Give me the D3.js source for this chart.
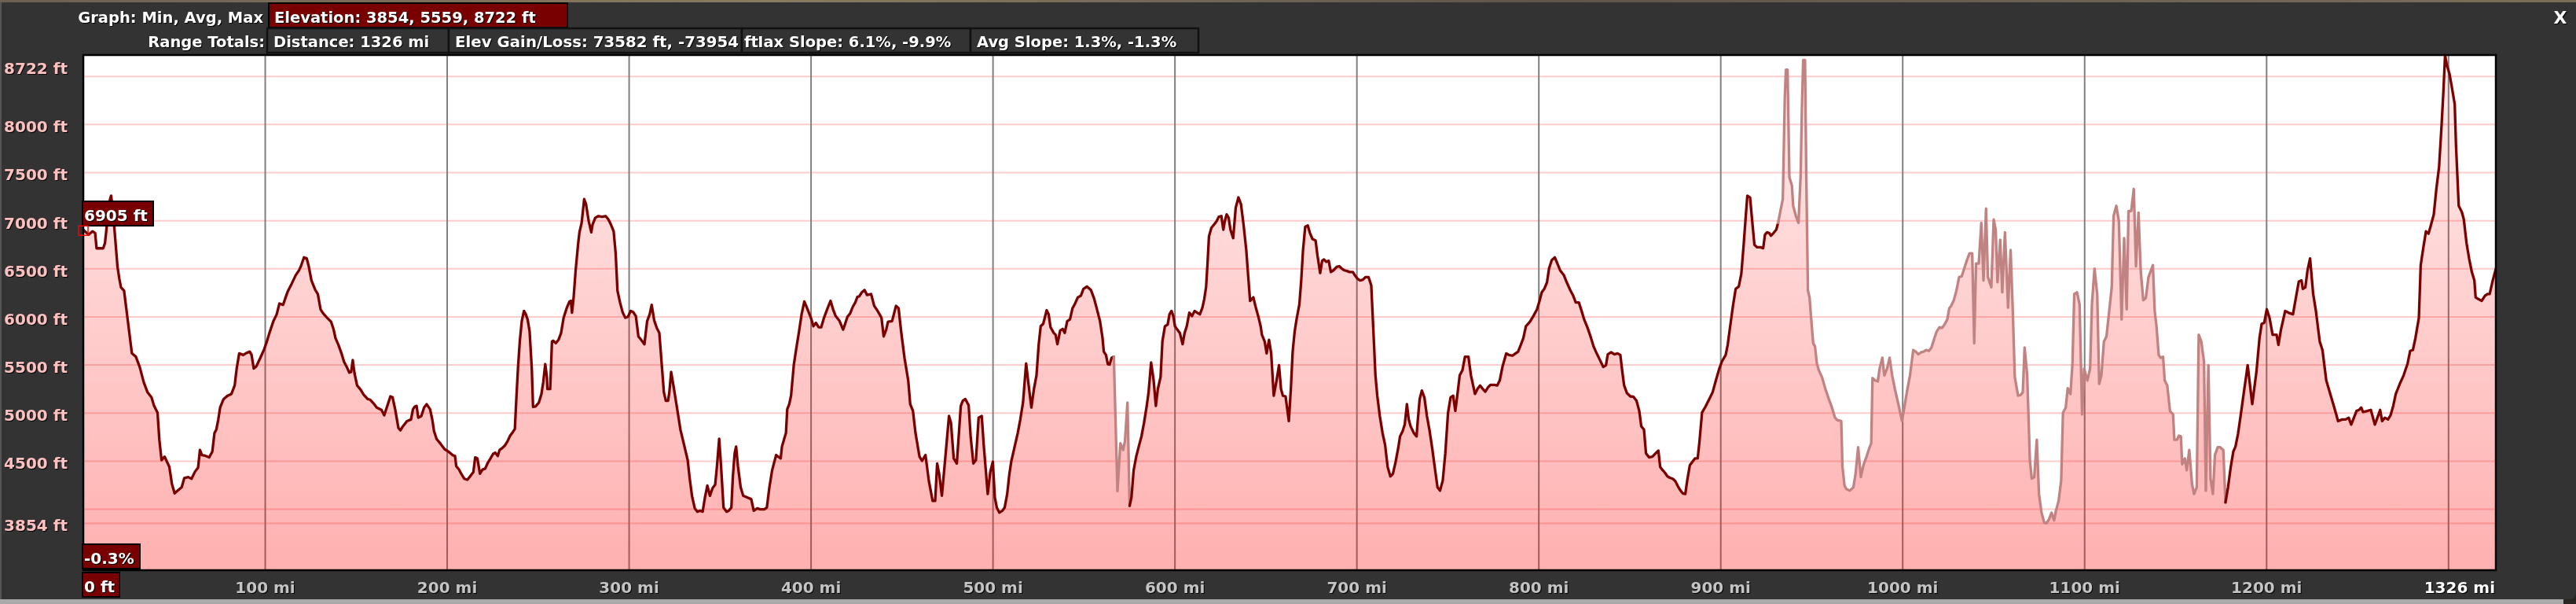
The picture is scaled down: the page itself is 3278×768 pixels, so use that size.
<!DOCTYPE html>
<html><head><meta charset="utf-8">
<script src="https://cdn.jsdelivr.net/npm/d3@7"></script>
<style>
html,body{margin:0;padding:0;background:#333;overflow:hidden}
svg text{font-family:"DejaVu Sans",sans-serif;font-weight:bold}
.sh{filter:drop-shadow(1px 1px 0 #000)}
</style></head><body>
<svg id="chart" width="3278" height="768"></svg>
<script>
// ---- data ----
const elevStats = [3854, 5559, 8722];          // min, avg, max (ft)
const totalMiles = 1326;
const gridFt = [8500, 8000, 7500, 7000, 6500, 6000, 5500, 5000, 4500, 4000, 3854];
const yLabelFt = [8722, 8000, 7500, 7000, 6500, 6000, 5500, 5000, 4500, 3854];
const xGridMiles = [100, 200, 300, 400, 500, 600, 700, 800, 900, 1000, 1100, 1200, 1300];
const xLabelMiles = [100, 200, 300, 400, 500, 600, 700, 800, 900, 1000, 1100, 1200];
const lightRanges = [[566.6, 574.6], [931.3, 1177.4]];   // lower-quality data shown in pale line
const headerRow1Label = "Graph: Min, Avg, Max";
const headerRow1Value = "Elevation: 3854, 5559, 8722 ft";
const headerRow2Label = "Range Totals:";
const headerRow2Values = ["Distance: 1326 mi", "Elev Gain/Loss: 73582 ft, -73954 ft", "Max Slope: 6.1%, -9.9%", "Avg Slope: 1.3%, -1.3%"];
const cursorFt = "6905 ft", cursorSlope = "-0.3%", cursorDist = "0 ft";

// [mile, elevation ft]
const elevationProfile = [
[0,6905],[2.9,6855],[5.1,6890],[6.5,6872],[7.3,6713],[10.9,6713],[11.9,6766],[13.0,6960],[14.2,7189],[15.3,7260],[16.2,7119],[17.3,6872],[18.8,6520],[19.8,6396],[20.7,6308],[22.4,6273],[24.5,5956],[26.7,5621],[28.9,5586],[31.0,5480],[33.2,5322],[35.3,5216],[37.5,5163],[38.9,5075],[40.8,5005],[41.8,4723],[43.0,4511],[44.7,4547],[47.3,4441],[48.7,4265],[50.2,4166],[51.9,4194],[54.1,4230],[55.5,4325],[57.7,4335],[59.5,4318],[61.3,4388],[63.1,4434],[64.1,4617],[65.2,4564],[67.0,4557],[69.2,4540],[70.9,4600],[72.1,4793],[73.1,4828],[74.2,4934],[75.2,5058],[77.1,5146],[79.3,5181],[81.4,5199],[83.2,5287],[84.3,5463],[85.7,5621],[87.9,5604],[89.3,5621],[91.5,5639],[92.5,5604],[93.7,5463],[95.1,5487],[97.3,5575],[99.4,5664],[100.9,5745],[102.3,5833],[104.5,5956],[106.3,6027],[107.8,6139],[109.8,6125],[111.2,6203],[112.4,6266],[114.5,6344],[116.7,6432],[118.6,6485],[119.6,6527],[121.3,6619],[122.8,6608],[123.9,6527],[125.4,6379],[127.5,6280],[128.9,6238],[130.4,6079],[131.8,6037],[134.0,5991],[136.2,5949],[137.6,5868],[138.6,5780],[140.2,5710],[141.9,5621],[143.3,5533],[144.8,5480],[146.2,5421],[147.2,5428],[148.1,5551],[149.1,5410],[150.5,5287],[152.4,5245],[154.1,5192],[156.3,5146],[157.7,5139],[159.9,5093],[161.3,5058],[163.9,5033],[165.4,4977],[167.1,5075],[168.8,5174],[170.0,5163],[171.4,5040],[173.2,4846],[174.3,4821],[175.7,4864],[177.9,4917],[180.1,4934],[181.2,5040],[182.2,5068],[183.2,5075],[184.1,4952],[185.8,4970],[187.3,5058],[188.7,5093],
[190.6,5040],[191.8,4934],[192.8,4811],[194.2,4730],[196.4,4680],[198.6,4624],[200.7,4600],[202.9,4564],[204.3,4554],[205.0,4448],[206.5,4413],[207.9,4363],[209.4,4318],[211.1,4307],[213.0,4353],[214.4,4388],[215.4,4540],[216.6,4529],[218.0,4370],[219.4,4413],[220.9,4423],[222.3,4483],[223.8,4529],[225.2,4575],[226.4,4589],[227.8,4554],[228.8,4617],[230.2,4635],[231.7,4663],[233.1,4705],[234.6,4765],[236.0,4800],[237.2,4836],[237.9,5110],[238.9,5463],[239.9,5745],[241.0,5956],[242.2,6062],[243.2,6027],[244.2,5974],[245.3,5850],[246.5,5463],[247.2,5065],[248.5,5068],[250.4,5110],[251.8,5199],[252.8,5322],[253.9,5509],[254.8,5375],[255.1,5251],[256.6,5251],[257.6,5745],[258.3,5752],[259.7,5727],[261.2,5762],[262.6,5833],[264.0,5991],[265.8,6097],[267.2,6160],[268.0,6167],[268.6,6044],[269.5,6203],[270.6,6484],[272.0,6766],[272.7,6879],[273.9,6978],[275.3,7224],[276.3,7172],[277.8,6995],[279.2,6879],[279.9,6960],[281.4,7031],[283.1,7048],[285.0,7041],[287.1,7048],[288.6,7013],[290.0,6960],[291.5,6890],[292.6,6661],[293.6,6273],[295.0,6150],[296.5,6044],[297.9,5991],[299.4,6002],[300.8,6062],[302.2,6051],[303.7,6009],[305.1,5797],[306.6,5762],[308.4,5716],[309.9,5956],[311.3,6027],[312.4,6125],[313.8,5963],[315.2,5886],[316.6,5833],[318.1,5463],[319.1,5216],[320.2,5128],[321.4,5128],[322.1,5216],[323.1,5428],[324.5,5269],[326.0,5093],[328.2,4828],[330.0,4687],[332.2,4511],[333.2,4335],[334.6,4134],[336.1,4010],[337.5,3975],[339.0,3986],[340.4,3975],[341.6,4116],[343.0,4247],[344.4,4141],[345.9,4222],[347.3,4257],[348.3,4451],[349.5,4733],[350.5,4458],[351.9,4018],[353.6,3975],[354.8,3986],[356.2,4018],[357.0,4335],[358.0,4582],[358.8,4652],[359.8,4451],[361.3,4230],[362.7,4141],[364.9,4123],[367.1,4106],[368.5,3986],[370.4,4010],[372.1,4000],[374.3,4000],[375.7,4018],[377.1,4230],[378.6,4406],
[380.8,4564],[381.9,4547],[383.3,4529],[384.0,4652],[385.2,4730],[386.2,4793],[386.9,5040],[388.0,5093],[389.0,5181],[390.5,5498],[391.9,5674],[393.4,5850],[394.8,6027],[396.3,6160],[397.7,6097],[399.9,5991],[401.3,5903],[402.7,5938],[404.2,5893],[405.6,5893],[407.1,5991],[409.2,6097],[410.7,6167],[412.1,6079],[413.5,6009],[415.7,5956],[417.6,5868],[418.6,5921],[420.0,6002],[421.5,6037],[422.9,6104],[424.3,6150],[425.5,6210],[426.5,6213],[427.9,6256],[429.4,6280],[430.8,6227],[433.0,6238],[434.7,6115],[436.6,6062],[438.7,5991],[439.9,5797],[441.3,5868],[442.3,5949],[444.5,5956],[446.7,6115],[448.1,6090],[449.5,5850],[451.4,5568],[453.4,5340],[454.5,5093],[456.0,5023],[457.4,4793],[459.6,4547],[461.0,4504],[462.9,4564],[464.7,4300],[466.8,4088],[468.2,4088],[469.3,4476],[470.4,4370],[471.9,4141],[474.0,4582],[475.8,4970],[476.9,4899],[478.4,4529],[480.1,4476],[482.3,5075],[483.4,5128],[484.8,5146],[486.6,5082],[487.7,4758],[489.2,4476],[490.6,4511],[492.1,4952],[493.8,4970],[494.9,4670],[497.1,4159],[498.5,4388],[499.9,4494],[501.0,4123],[502.1,4018],[503.5,3965],[505.0,3983],[506.4,4018],[507.8,4159],[508.9,4353],[510.0,4494],[511.9,4652],[513.6,4793],[515.0,4934],[516.5,5110],[518.2,5516],[519.6,5287],[521.1,5058],[522.5,5251],[523.9,5392],[525.1,5710],[526.2,5903],[527.6,5928],[529.5,6069],[530.6,6027],[531.6,5893],[533.4,5833],[534.4,5815],[535.4,5716],[536.9,5857],[538.3,5875],[539.4,5833],[540.8,5956],[542.3,5974],[543.7,6090],[545.1,6139],[546.6,6203],[548.3,6220],[549.7,6291],[551.6,6316],[553.8,6280],[555.5,6195],[556.9,6097],[558.8,5956],[560.2,5780],[560.9,5639],[562.1,5604],[563.1,5509],[564.1,5505],[565.2,5575],[566.4,5586],[568.4,4190],[570.0,4687],[571.5,4617],[572.5,4705],[573.9,5110],[575.1,4036],
[576.1,4124],[577.3,4406],[578.7,4547],[580.1,4652],[581.6,4758],[583.0,4899],[584.5,5075],[585.5,5216],[586.9,5526],[588.3,5339],[589.5,5075],[590.6,5251],[592.1,5375],[593.1,5745],[594.5,5903],[596.0,5921],[597.0,6027],[598.1,6062],[599.1,6009],[600.0,5903],[601.3,5868],[602.7,5833],[604.2,5716],[605.3,5833],[606.5,5903],[607.9,6044],[609.4,6009],[610.8,6062],[612.2,6044],[613.7,6027],[615.1,6097],[616.1,6185],[617.1,6308],[617.9,6555],[618.7,6837],[620.0,6925],[621.5,6960],[622.9,6995],[624.1,7041],[625.5,7048],[626.6,6907],[627.4,6995],[628.4,7066],[629.5,7031],[630.5,6907],[632.0,6819],[633.4,7136],[634.9,7242],[636.3,7172],[637.7,6960],[639.2,6696],[640.3,6414],[641.3,6167],[643.1,6203],[644.2,6115],[646.0,5991],[647.1,5903],[647.8,5815],[649.3,5745],[650.4,5621],[651.7,5762],[652.9,5621],[654.3,5181],[655.7,5322],[657.2,5498],[658.3,5251],[659.3,5181],[660.8,5174],[662.6,4917],[663.7,5251],[664.7,5639],[665.8,5850],[667.0,5991],[668.4,6132],[669.4,6379],[670.4,6696],[671.6,6936],[673.0,6950],[674.2,6872],[675.6,6809],[677.3,6795],[678.3,6643],[679.8,6456],[680.9,6583],[681.9,6597],[683.1,6573],[684.5,6583],[685.7,6467],[687.1,6484],[688.9,6520],[690.3,6527],[691.7,6502],[693.2,6484],[694.6,6477],[696.0,6467],[697.8,6467],[698.9,6432],[700.4,6396],[701.8,6379],[703.3,6386],[704.7,6414],[706.4,6414],[707.9,6326],[709.0,5886],[710.2,5392],[711.2,5181],[712.6,4970],[714.1,4793],[715.5,4670],[716.9,4441],[718.4,4342],[719.8,4370],[721.3,4494],[722.7,4635],[723.7,4758],[725.1,4811],[726.3,4881],[727.5,5093],[728.5,4934],[729.5,4864],[731.3,4793],[732.8,4758],[733.5,4934],[734.5,5146],[735.7,5234],[737.1,5163],[738.5,4970],[740.0,4811],[741.4,4635],[742.9,4423],[744.3,4229],[745.7,4194],[747.2,4300],[748.6,4582],[750.1,5005],[751.5,5163],[752.9,5181],[754.1,5023],[755.4,5216],[756.5,5392],[758.0,5445],[759.4,5586],
[761.3,5586],[762.7,5392],[764.9,5199],[766.3,5251],[767.7,5287],[769.2,5251],[770.6,5223],[772.1,5269],[773.5,5294],[775.7,5294],[777.1,5287],[778.5,5339],[780.0,5480],[782.1,5621],[783.6,5604],[785.5,5597],[787.2,5621],[788.6,5639],[790.1,5710],[791.5,5780],[792.9,5903],[795.1,5949],[797.0,6009],[799.0,6079],[800.4,6167],[801.6,6256],[803.0,6291],[804.5,6361],[805.6,6502],[807.1,6590],[808.8,6618],[810.2,6555],[811.7,6484],[813.8,6432],[815.3,6361],[817.4,6273],[818.9,6220],[820.3,6150],[822.0,6150],[823.5,6062],[824.9,5974],[826.8,5886],[828.7,5780],[830.1,5692],[831.8,5621],[833.6,5551],[835.4,5480],[836.9,5498],[837.9,5611],[839.7,5632],[841.6,5611],[843.3,5621],[844.8,5604],[845.9,5427],[846.9,5287],[848.4,5209],[850.3,5174],[852.0,5170],[853.7,5128],[855.2,5022],[856.3,4864],[857.8,4828],[858.9,4582],[860.6,4540],[862.4,4547],[864.2,4582],[865.7,4610],[866.7,4441],[868.1,4406],[869.3,4381],[870.7,4342],[872.1,4328],[873.6,4318],[875.0,4293],[876.5,4237],[877.9,4194],[879.1,4166],[880.5,4159],[881.5,4293],[883.0,4458],[884.4,4494],[885.8,4529],[887.3,4529],[888.3,4705],[889.7,5005],[891.6,5068],[893.5,5139],[895.5,5216],[897.3,5339],[899.2,5463],[900.7,5540],[902.7,5604],[903.8,5709],[905.3,5921],[906.7,6115],[908.2,6291],[909.9,6316],[911.3,6449],[912.5,6731],[913.6,7013],[914.6,7260],[916.1,7242],[917.2,7013],[918.5,6749],[920.0,6724],[921.8,6724],[923.3,6714],[924.3,6855],[925.4,6879],[926.6,6872],[927.6,6844],[929.0,6872],[930.5,6907],[931.5,6978],[932.6,7084],[934.1,7225],[935.2,8282],[935.8,8570],[936.7,8570],[937.7,7453],[939.1,7365],[939.8,7154],[941.3,7048],[942.7,6978],[943.9,7471],[944.6,8176],[945.3,8669],[946.3,8669],[947.0,7471],[947.9,6273],[948.8,6203],[949.6,6000],
[950.8,5727],[951.8,5692],[952.8,5516],[953.9,5445],[955.6,5375],[957.5,5251],[959.4,5146],[961.1,5058],[962.8,4952],[964.0,4927],[966.2,4917],[966.9,4441],[968.0,4247],[969.0,4212],[970.9,4194],[972.9,4229],[974.1,4370],[975.5,4645],[977.0,4335],[978.4,4458],[980.1,4547],[981.6,4635],[982.7,4687],[983.4,5364],[984.9,5339],[986.3,5329],[987.3,5463],[988.8,5575],[989.9,5392],[991.4,5463],[992.8,5575],[994.2,5392],[995.7,5251],[997.6,5093],[999.6,4917],[1000.7,5040],[1002.6,5251],[1004.0,5392],[1005.8,5656],[1007.2,5639],[1008.6,5611],[1010.1,5632],[1011.5,5639],[1013.0,5656],[1014.4,5646],[1015.8,5681],[1017.3,5773],[1018.7,5850],[1020.2,5893],[1021.6,5886],[1023.0,5921],[1024.5,5974],[1025.6,6090],[1026.6,6114],[1028.1,6174],[1029.5,6273],[1031.0,6414],[1032.4,6421],[1033.8,6502],[1035.3,6590],[1036.7,6661],[1038.2,6661],[1039.3,5727],[1040.3,6555],[1041.8,6555],[1043.2,6978],[1044.4,6379],[1045.8,7126],[1046.8,6414],[1048.7,6308],[1050.0,7013],[1051.1,6907],[1052.1,6361],[1053.6,6802],[1054.7,6256],[1056.2,6879],[1057.9,6097],[1059.3,6696],[1060.5,6062],[1061.6,5375],[1063.4,5181],[1064.8,5188],[1066.0,5216],[1067.0,5681],[1068.4,5399],[1069.9,4511],[1070.9,4318],[1072.3,4335],[1073.7,4723],[1074.9,4159],[1076.3,3965],[1077.8,3860],[1078.9,3854],[1080.4,3895],[1081.8,3965],[1083.2,3884],[1084.2,3983],[1085.7,4088],[1087.1,4300],[1088.1,5005],[1089.6,5058],[1090.7,5258],[1092.2,5199],[1093.3,5516],[1094.3,6238],[1095.8,6256],[1097.2,6132],[1098.6,4987],[1099.7,5463],[1101.5,5339],[1103.0,5463],[1104.0,6132],[1105.4,6502],[1106.9,6238],[1108.0,5304],[1109.2,5392],[1110.6,5745],[1112.0,5797],[1113.5,6062],[1114.9,6308],[1115.9,7048],[1117.4,7154],[1118.8,6995],[1120.3,5974],[1121.7,6819],[1123.1,6079],[1124.1,7101],[1125.6,7101],[1127.0,7330],[1128.2,6527],[1129.6,7084],[1130.8,6484],[1132.2,6174],[1133.6,6196],[1135.1,6414],[1136.8,6502],[1137.5,6537],[1138.5,6062],[1139.5,5900],
[1140.7,5604],[1141.7,5575],[1143.1,5586],[1144.0,5339],[1145.4,5287],[1146.9,5022],[1148.6,4987],[1149.3,4723],[1150.8,4723],[1151.8,4765],[1152.9,4758],[1153.6,4469],[1155.1,4529],[1156.1,4406],[1157.5,4617],[1159.0,4265],[1160.1,4159],[1161.6,4229],[1162.7,5815],[1164.1,5745],[1165.6,5533],[1166.6,4194],[1168.0,5498],[1169.2,4318],[1170.5,4159],[1171.6,4564],[1173.1,4645],[1174.5,4645],[1176.2,4617],[1177.4,4071],[1178.8,4229],[1180.3,4441],[1181.7,4600],[1182.9,4652],[1184.3,4786],[1185.7,4969],[1187.5,5216],[1189.6,5498],[1192.1,5093],[1194.4,5427],[1196.1,5780],[1197.3,5928],[1198.7,5938],[1200.1,6079],[1201.6,5991],[1203.3,5815],[1205.5,5815],[1206.5,5709],[1207.9,5868],[1210.2,6062],[1212.0,6044],[1214.5,6027],[1216.3,6220],[1217.7,6368],[1219.2,6379],[1219.9,6291],[1221.3,6308],[1222.5,6485],[1223.9,6608],[1225.6,6238],[1227.1,6062],[1229.2,5745],[1230.7,5656],[1232.8,5339],[1235.0,5199],[1237.2,5058],[1239.3,4917],[1241.5,4934],[1243.4,4934],[1245.1,4952],[1246.5,4881],[1248.0,4952],[1249.4,5022],[1250.8,5033],[1252.0,5058],[1253.0,5012],[1255.2,5022],[1257.3,5033],[1259.5,4881],[1260.9,4952],[1262.4,5033],[1263.5,4917],[1265.0,4952],[1266.7,4934],[1268.1,4976],[1269.6,5075],[1271.0,5199],[1273.2,5304],[1275.3,5392],[1277.5,5516],[1278.9,5646],[1280.4,5656],[1281.8,5780],[1283.7,5991],[1284.7,6537],[1286.1,6714],[1287.6,6890],[1289.0,6865],[1290.4,6960],[1291.9,7066],[1293.3,7330],[1294.8,7559],[1296.2,8000],[1297.2,8352],[1298.1,8722],[1299.1,8616],[1300.5,8528],[1301.5,8423],[1303.4,8211],[1304.1,7788],[1305.6,7154],[1307.3,7091],[1308.4,7013],[1309.9,6766],[1311.3,6608],[1312.8,6467],[1314.2,6379],[1314.9,6203],[1316.4,6185],[1318.2,6167],[1320.0,6220],[1321.4,6238],[1322.6,6238],[1324.3,6379],[1326,6500]
];

// ---- layout ----
const W = 3278, H = 768;
const P = {left: 106, right: 3176, top: 70, bottom: 725};
const svg = d3.select("#chart");
const defs = svg.append("defs");

// background panel
svg.append("rect").attr("x",0).attr("y",0).attr("width",W).attr("height",H).attr("fill","#a9a9a9");
const mapGrad = defs.append("linearGradient").attr("id","mapStrip");
[["0%","#6d604f"],["30%","#8a7a62"],["60%","#5e5648"],["100%","#7b6d58"]].forEach(s=>mapGrad.append("stop").attr("offset",s[0]).attr("stop-color",s[1]));
svg.append("rect").attr("x",0).attr("y",0).attr("width",W).attr("height",5).attr("fill","url(#mapStrip)");
svg.append("rect").attr("x",3262).attr("y",740).attr("width",16).attr("height",28).attr("fill","#2a2520");
svg.append("path").attr("fill","#333333")
  .attr("d",`M0,3 H${W} V752 Q${W},762 ${W-10},762 H0 Z`);
svg.append("rect").attr("x",0).attr("y",3).attr("width",2).attr("height",759).attr("fill","#555");

// scales
const yMin = elevStats[0] - 0.1*(elevStats[2]-elevStats[0]);
const x = d3.scaleLinear().domain([0, totalMiles]).range([P.left, P.right]);
const y = d3.scaleLinear().domain([yMin, elevStats[2]]).range([P.bottom, P.top]);

// plot background
svg.append("rect").attr("x",P.left).attr("y",P.top).attr("width",P.right-P.left).attr("height",P.bottom-P.top).attr("fill","#ffffff");

// horizontal grid
svg.append("g").selectAll("line").data(gridFt).join("line")
  .attr("x1",P.left).attr("x2",P.right)
  .attr("y1",d=>y(d)).attr("y2",d=>y(d))
  .attr("stroke","#ffcccc").attr("stroke-width",2);

// vertical grid
svg.append("g").selectAll("line").data(xGridMiles).join("line")
  .attr("x1",d=>x(d)).attr("x2",d=>x(d))
  .attr("y1",P.top).attr("y2",P.bottom)
  .attr("stroke","#808080").attr("stroke-width",2);

// area fill (semi-transparent gradient over the grid)
const fg = defs.append("linearGradient").attr("id","fillGrad")
  .attr("gradientUnits","userSpaceOnUse").attr("x1",0).attr("y1",P.top).attr("x2",0).attr("y2",P.bottom);
fg.append("stop").attr("offset","0%").attr("stop-color","#ff0000").attr("stop-opacity",0.07);
fg.append("stop").attr("offset","100%").attr("stop-color","#ff0000").attr("stop-opacity",0.31);

const area = d3.area().x(d=>x(d[0])).y0(P.bottom).y1(d=>y(d[1]));
svg.append("path").datum(elevationProfile).attr("d",area).attr("fill","url(#fillGrad)");

// line, split into dark / pale runs
const isLight = m => lightRanges.some(r => m >= r[0] && m <= r[1]);
const runs = [];
for (let i = 0; i < elevationProfile.length-1; i++) {
  const a = elevationProfile[i], b = elevationProfile[i+1];
  const light = isLight((a[0]+b[0])/2);
  const last = runs[runs.length-1];
  if (last && last.light === light) last.pts.push(b);
  else runs.push({light, pts:[a,b]});
}
const line = d3.line().x(d=>x(d[0])).y(d=>y(d[1]));
svg.append("g").selectAll("path").data(runs).join("path")
  .attr("d",d=>line(d.pts)).attr("fill","none")
  .attr("stroke",d=>d.light ? "#c18282" : "#7a0000")
  .attr("stroke-width",3.3).attr("stroke-linejoin","round").attr("stroke-linecap","round");

// plot border
svg.append("rect").attr("x",P.left).attr("y",P.top).attr("width",P.right-P.left).attr("height",P.bottom-P.top)
  .attr("fill","none").attr("stroke","#000").attr("stroke-width",2.5);

// y labels
svg.append("g").selectAll("text").data(yLabelFt).join("text").attr("class","sh")
  .attr("x",86).attr("y",d=>Math.max(y(d)+10, P.top+24))
  .attr("text-anchor","end").attr("font-size",20).attr("fill","#ffc0c0")
  .text(d=>d+" ft");

// x labels
svg.append("g").selectAll("text").data(xLabelMiles).join("text").attr("class","sh")
  .attr("x",d=>x(d)).attr("y",754).attr("text-anchor","middle")
  .attr("font-size",20).attr("fill","#c4c4c4").text(d=>d+" mi");
svg.append("text").attr("class","sh").attr("x",P.right-1).attr("y",754).attr("text-anchor","end")
  .attr("font-size",20).attr("fill","#ffffff").text(totalMiles+" mi");

// cursor boxes
function redBox(x0,y0,w,h,txt,tx,ty){
  svg.append("rect").attr("x",x0).attr("y",y0).attr("width",w).attr("height",h)
    .attr("fill","#780000").attr("stroke","#000").attr("stroke-width",2);
  svg.append("text").attr("class","sh").attr("x",tx).attr("y",ty).attr("font-size",20).attr("fill","#fff").text(txt);
}
redBox(105,256,90,31,cursorFt,107,281);
redBox(105,692,73,31,cursorSlope,107,717);
redBox(105,728,47,31,cursorDist,107,753);
// cursor marker at start of line
svg.append("rect").attr("x",x(elevationProfile[0][0])-6).attr("y",y(elevationProfile[0][1])-5)
  .attr("width",12).attr("height",12).attr("fill","none").attr("stroke","#ff0000").attr("stroke-width",1.5);

// header
svg.append("text").attr("class","sh").attr("x",335).attr("y",29).attr("text-anchor","end")
  .attr("font-size",19.5).attr("fill","#fff").text(headerRow1Label);
svg.append("rect").attr("x",342).attr("y",4).attr("width",380).attr("height",31)
  .attr("fill","#780000").attr("stroke","#000").attr("stroke-width",2);
svg.append("text").attr("class","sh").attr("x",349).attr("y",29)
  .attr("font-size",19.5).attr("fill","#fff").text(headerRow1Value);

svg.append("text").attr("class","sh").attr("x",337).attr("y",60).attr("text-anchor","end")
  .attr("font-size",19.5).attr("fill","#fff").text(headerRow2Label);
const boxEdges = [340, 571, 944, 1235, 1525];
headerRow2Values.forEach((t,i)=>{
  svg.append("rect").attr("x",boxEdges[i]).attr("y",36).attr("width",boxEdges[i+1]-boxEdges[i]).attr("height",31)
    .attr("fill","#333").attr("stroke","#111").attr("stroke-width",2.5);
});
// the long gain/loss text runs over the start of the next box, as in the reference
defs.append("clipPath").attr("id","box3clip").append("rect")
  .attr("x",966).attr("y",36).attr("width",1235-966).attr("height",31);
headerRow2Values.forEach((t,i)=>{
  const tx = svg.append("text").attr("class","sh").attr("x",boxEdges[i]+8).attr("y",60)
    .attr("font-size",19.5).attr("fill","#fff").text(t);
  if (i === 1) tx.attr("textLength",386).attr("lengthAdjust","spacingAndGlyphs");
  if (i === 2) tx.attr("clip-path","url(#box3clip)");
});

// close button
svg.append("text").attr("class","sh").attr("x",3258).attr("y",30).attr("text-anchor","middle")
  .attr("font-size",22).attr("fill","#fff").text("X");
</script>
</body></html>
